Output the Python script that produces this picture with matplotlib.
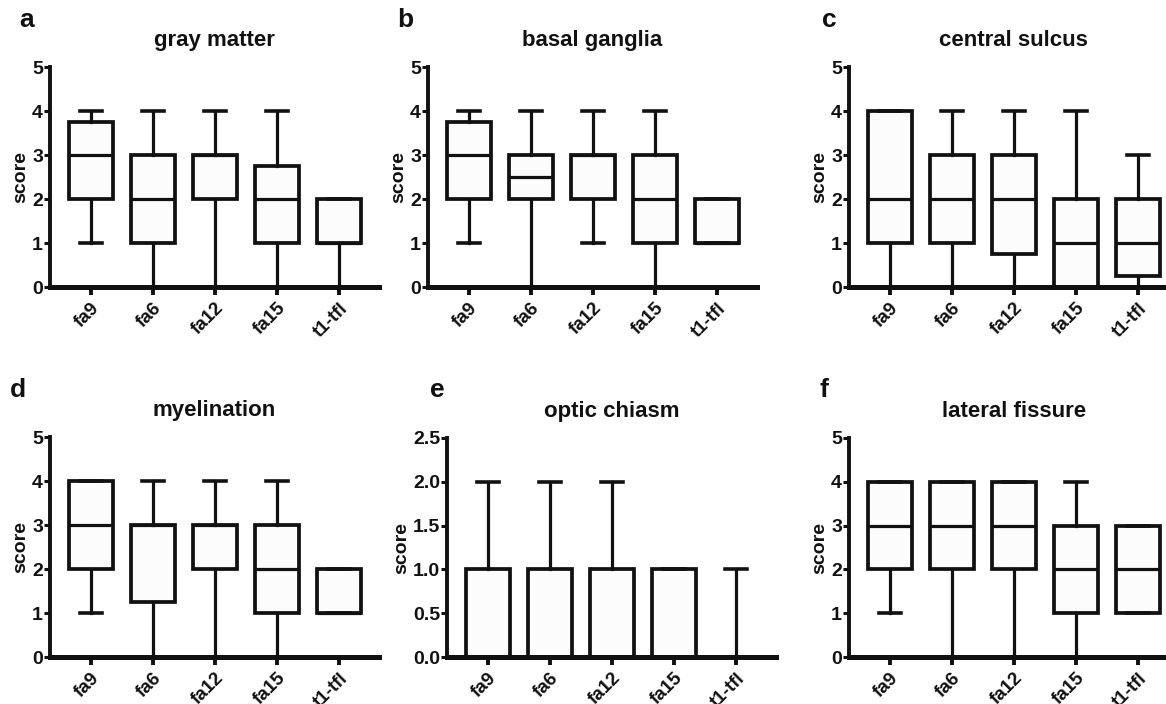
import numpy as np
import matplotlib
matplotlib.use("Agg")
import matplotlib.pyplot as plt

plt.rcParams['font.family'] = ['Liberation Sans', 'DejaVu Sans']
plt.rcParams['font.weight'] = 'bold'

categories = ["fa9", "fa6", "fa12", "fa15", "t1-tfl"]
titles = ["gray matter", "basal ganglia", "central sulcus",
          "myelination", "optic chiasm", "lateral fissure"]
letters = ["a", "b", "c", "d", "e", "f"]

# lower whisker, Q1, median, Q3, upper whisker (one entry per category)
gray_lo = [1, 0, 0, 0, 0]
gray_q1 = [2, 1, 2, 1, 1]
gray_med = [3, 2, 3, 2, 1]
gray_q3 = [3.75, 3, 3, 2.75, 2]
gray_hi = [4, 4, 4, 4, 2]

basal_lo = [1, 0, 1, 0, 1]
basal_q1 = [2, 2, 2, 1, 1]
basal_med = [3, 2.5, 3, 2, 1]
basal_q3 = [3.75, 3, 3, 3, 2]
basal_hi = [4, 4, 4, 4, 2]

central_lo = [0, 0, 0, 0, 0]
central_q1 = [1, 1, 0.75, 0, 0.25]
central_med = [2, 2, 2, 1, 1]
central_q3 = [4, 3, 3, 2, 2]
central_hi = [4, 4, 4, 4, 3]

myel_lo = [1, 0, 0, 0, 1]
myel_q1 = [2, 1.25, 2, 1, 1]
myel_med = [3, 3, 3, 2, 1]
myel_q3 = [4, 3, 3, 3, 2]
myel_hi = [4, 4, 4, 4, 2]

optic_lo = [0, 0, 0, 0, 0]
optic_q1 = [0, 0, 0, 0, 0]
optic_med = [0, 0, 0, 0, 0]
optic_q3 = [1, 1, 1, 1, 0]
optic_hi = [2, 2, 2, 1, 1]

lateral_lo = [1, 0, 0, 0, 1]
lateral_q1 = [2, 2, 2, 1, 1]
lateral_med = [3, 3, 3, 2, 2]
lateral_q3 = [4, 4, 4, 3, 3]
lateral_hi = [4, 4, 4, 4, 3]

panels = [
    (gray_lo, gray_q1, gray_med, gray_q3, gray_hi),
    (basal_lo, basal_q1, basal_med, basal_q3, basal_hi),
    (central_lo, central_q1, central_med, central_q3, central_hi),
    (myel_lo, myel_q1, myel_med, myel_q3, myel_hi),
    (optic_lo, optic_q1, optic_med, optic_q3, optic_hi),
    (lateral_lo, lateral_q1, lateral_med, lateral_q3, lateral_hi),
]
y_max = [5, 5, 5, 5, 2.5, 5]
y_step = [1, 1, 1, 1, 0.5, 1]

W, H = 1166, 704
fig = plt.figure(figsize=(W / 100, H / 100), dpi=100)

# axes boxes in pixels: left spine x, top y, bottom y
spine_x = [50, 428, 849, 50, 447, 849]
top_y = [67, 67, 67, 437, 438, 438]
bot_y = [287, 287, 287, 657, 657, 657]
letter_xy = [(19, 27), (397, 27), (822, 27), (10, 397), (430, 397), (820, 397)]

x_lo, x_hi = -0.66, 4.65
unit_px = 62

for i in range(6):
    lo, q1, med, q3, hi = panels[i]
    width_px = (x_hi - x_lo) * unit_px
    ax = fig.add_axes([spine_x[i] / W, 1 - bot_y[i] / H,
                       width_px / W, (bot_y[i] - top_y[i]) / H])
    stats = []
    for j in range(len(categories)):
        stats.append(dict(whislo=lo[j], q1=q1[j], med=med[j], q3=q3[j],
                          whishi=hi[j], fliers=[]))
    ax.bxp(stats, positions=np.arange(len(categories)), widths=0.71,
           capwidths=0.36, patch_artist=True, showfliers=False,
           boxprops=dict(facecolor='#fcfcfc', edgecolor='#111111', linewidth=2.7),
           whiskerprops=dict(color='#111111', linewidth=2.3),
           capprops=dict(color='#111111', linewidth=2.6),
           medianprops=dict(color='#111111', linewidth=2.3))

    ax.set_xlim(x_lo, x_hi)
    ax.set_ylim(0, y_max[i])
    ax.set_yticks(np.arange(0, y_max[i] + 1e-9, y_step[i]))
    if y_step[i] < 1:
        ax.set_yticklabels([f"{v:.1f}" for v in ax.get_yticks()])
    ax.set_xticks(np.arange(len(categories)))
    ax.set_xticklabels(categories, rotation=45, ha='right',
                       rotation_mode='anchor', va='top')
    for sp in ['top', 'right']:
        ax.spines[sp].set_visible(False)
    ax.spines['left'].set_linewidth(2.8)
    ax.spines['bottom'].set_linewidth(3.6)
    ax.spines['left'].set_color('#111111')
    ax.spines['bottom'].set_color('#111111')
    ax.tick_params(axis='y', length=4, width=2.2, labelsize=14, pad=1,
                   color='#111111', labelcolor='#111111')
    ax.tick_params(axis='x', length=6, width=2.8, labelsize=13.5, pad=3,
                   color='#111111', labelcolor='#111111')
    ax.set_ylabel("score", fontsize=14, fontweight='bold', labelpad=2,
                  color='#111111')
    ax.set_title(titles[i], fontsize=16, fontweight='bold', pad=15,
                 color='#111111')
    ax.set_facecolor('none')

    lx, ly = letter_xy[i]
    fig.text(lx / W, 1 - ly / H, letters[i], fontsize=19, fontweight='bold',
             color='#111111', ha='left', va='baseline')

fig.savefig("out.png", dpi=100)
